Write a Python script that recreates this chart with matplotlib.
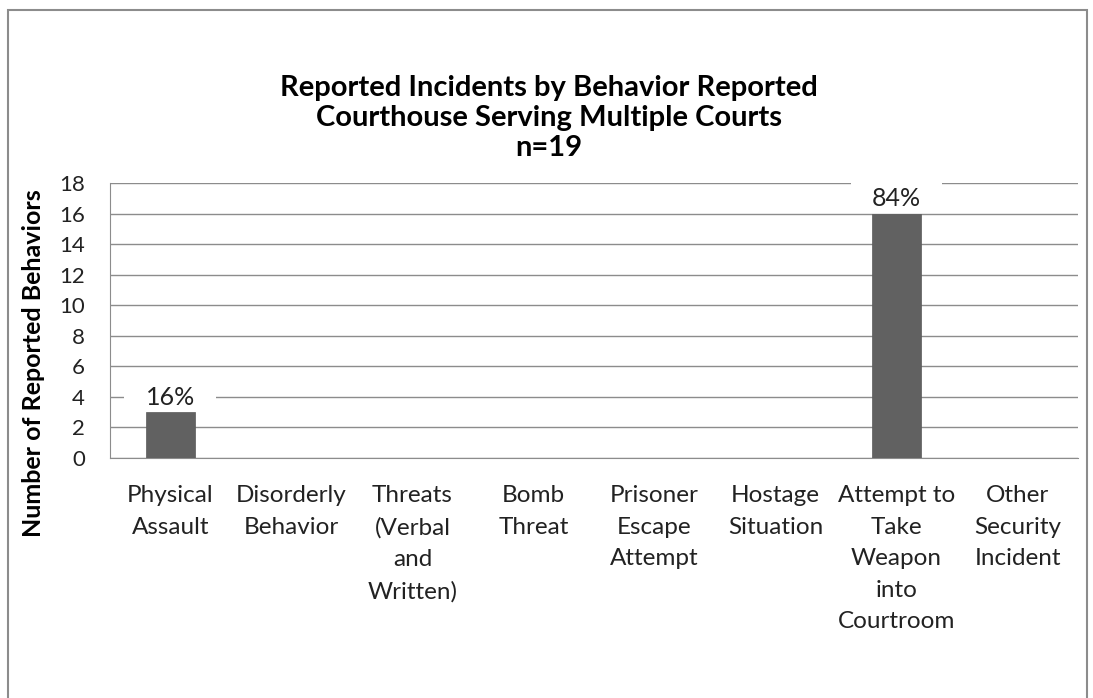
import matplotlib
matplotlib.use('Agg')
import matplotlib.pyplot as plt
import numpy as np
from matplotlib.patches import Rectangle

categories = ["Physical\nAssault", "Disorderly\nBehavior", "Threats\n(Verbal\nand\nWritten)",
              "Bomb\nThreat", "Prisoner\nEscape\nAttempt", "Hostage\nSituation",
              "Attempt to\nTake\nWeapon\ninto\nCourtroom", "Other\nSecurity\nIncident"]
counts = [3, 0, 0, 0, 0, 0, 16, 0]
pct_labels = ["16%", "", "", "", "", "", "84%", ""]
yticks = [0, 2, 4, 6, 8, 10, 12, 14, 16, 18]

plt.rcParams['font.family'] = ['Lato', 'DejaVu Sans']

fig = plt.figure(figsize=(10.93, 6.98), dpi=100)
fig.patches.append(Rectangle((8 / 1093, -0.1), 1079 / 1093, 1.1 - 10 / 698,
                             transform=fig.transFigure, fill=False,
                             edgecolor='#8c8c8c', linewidth=1.5))

ax = fig.add_axes([0.1006, 0.3438, 0.8857, 0.394])
x = np.arange(len(categories))
bars = ax.bar(x, counts, width=0.4, color='#616161', edgecolor='#5a5a5a', linewidth=0.5, zorder=3)

for b, lab in zip(bars, pct_labels):
    if lab:
        cx = b.get_x() + b.get_width() / 2
        top = b.get_height()
        # white gap in the gridlines behind the label, like excel does
        ax.add_patch(Rectangle((cx - 0.38, top + 0.05), 0.76, 2.2, facecolor='white',
                               edgecolor='none', zorder=2, clip_on=False))
        ax.annotate(lab, (cx, top), xytext=(0, 2.5), textcoords='offset points',
                    ha='center', va='bottom', fontsize=18, color='#222222', zorder=4)

ax.set_xlim(-0.5, len(categories) - 0.5)
ax.set_ylim(0, 18)
ax.set_yticks(yticks)
ax.set_yticklabels([str(t) for t in yticks], fontsize=16, color='#222222')
ax.set_xticks(x)
ax.set_xticklabels(categories, fontsize=17.5, color='#222222', linespacing=1.62)
ax.tick_params(axis='x', length=0, pad=19.5)
ax.tick_params(axis='y', length=0, pad=18)
ax.yaxis.grid(True, color='#8c8c8c', linewidth=1.0, zorder=0)
ax.set_axisbelow(True)
for s in ['top', 'right']:
    ax.spines[s].set_visible(False)
ax.spines['left'].set_color('#8c8c8c')
ax.spines['bottom'].set_color('#8c8c8c')

fig.text(34 / 1093, 1 - 363 / 698, "Number of Reported Behaviors", rotation=90,
         ha='center', va='center', fontsize=18, fontweight='bold')

tx = 549 / 1093
fig.text(tx, 1 - 88 / 698, "Reported Incidents by Behavior Reported", ha='center', va='center',
         fontsize=21, fontweight='bold')
fig.text(tx, 1 - 118 / 698, "Courthouse Serving Multiple Courts", ha='center', va='center',
         fontsize=21, fontweight='bold')
fig.text(tx, 1 - 148 / 698, "n=19", ha='center', va='center',
         fontsize=21, fontweight='bold')

fig.savefig("out.png", dpi=100)
